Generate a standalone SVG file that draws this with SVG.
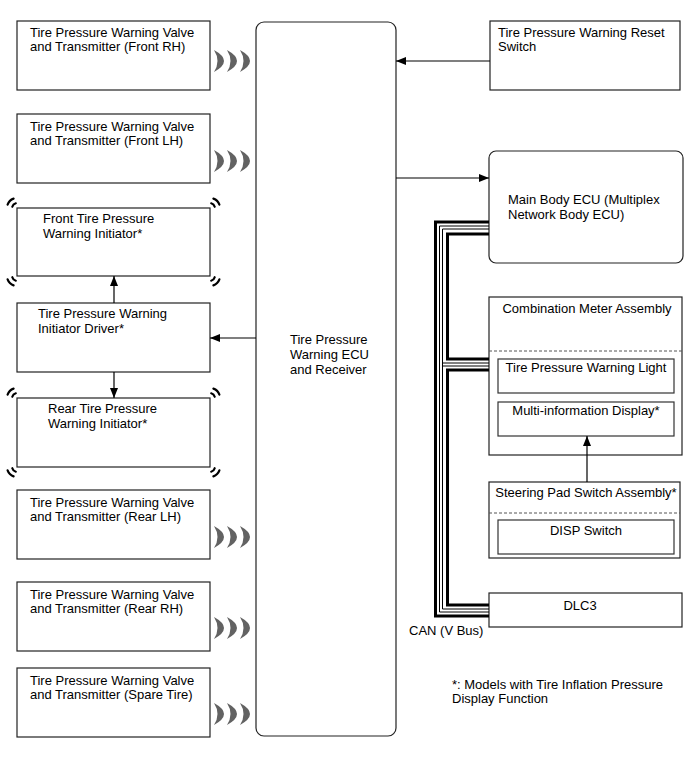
<svg xmlns="http://www.w3.org/2000/svg" xmlns:xlink="http://www.w3.org/1999/xlink" width="690" height="757" viewBox="0 0 690 757">
<style>
  text { font-family: "Liberation Sans", Arial, sans-serif; font-size: 13px; fill: #000; }
  .box { fill: #fff; stroke: #222; stroke-width: 1.2; }
  .inner { fill: #fff; stroke: #333; stroke-width: 1.2; }
  .dash { stroke: #555; stroke-width: 1; stroke-dasharray: 3 2; fill: none; }
  .line { stroke: #000; stroke-width: 1.2; fill: none; }
  .bus3 { stroke: #000; stroke-width: 3; fill: none; }
  .bus1 { stroke: #000; stroke-width: 1; fill: none; }
  .mark { stroke: #000; stroke-width: 2.2; fill: none; stroke-linecap: round; }
  .wave { fill: #626262; }
  .c { text-anchor: middle; }
</style>
<defs>
  <marker id="arr" viewBox="0 0 10 8" refX="10" refY="4" markerWidth="10" markerHeight="8" markerUnits="userSpaceOnUse" orient="auto">
    <path d="M0,0 L10,4 L0,8 Z" fill="#000"/>
  </marker>
  <g id="waves">
    <path class="wave" d="M0,-11 Q20,0 0,11 Q7,0 0,-11 Z"/>
    <path class="wave" d="M13,-11 Q33,0 13,11 Q20,0 13,-11 Z"/>
    <path class="wave" d="M26,-11 Q46,0 26,11 Q33,0 26,-11 Z"/>
  </g>
  <g id="cm">
    <path class="mark" d="M-9.4,-3.4 A10,10 0 0 1 -3.4,-9.4"/>
    <path class="mark" d="M-4.7,-1.2 A5,5 0 0 1 -1.2,-4.7"/>
  </g>
</defs>

<g id="ecu">
  <rect class="box" x="256" y="22" width="140" height="714" rx="8"/>
  <text x="290" y="344">Tire Pressure</text>
  <text x="290" y="359">Warning ECU</text>
  <text x="290" y="374">and Receiver</text>
</g>

<g id="tx-frh">
  <rect class="box" x="17" y="21" width="193" height="69"/>
  <text x="30" y="37">Tire Pressure Warning Valve</text>
  <text x="30" y="51">and Transmitter (Front RH)</text>
  <use href="#waves" x="214" y="61"/>
</g>
<g id="tx-flh">
  <rect class="box" x="17" y="114" width="193" height="69"/>
  <text x="30" y="131">Tire Pressure Warning Valve</text>
  <text x="30" y="145">and Transmitter (Front LH)</text>
  <use href="#waves" x="214" y="161"/>
</g>
<g id="front-init">
  <rect class="box" x="17" y="208" width="193" height="68"/>
  <text x="43" y="223">Front Tire Pressure</text>
  <text x="43" y="238">Warning Initiator*</text>
  <use href="#cm" transform="translate(17,208)"/>
  <use href="#cm" transform="translate(210,208) scale(-1,1)"/>
  <use href="#cm" transform="translate(17,276) scale(1,-1)"/>
  <use href="#cm" transform="translate(210,276) scale(-1,-1)"/>
</g>
<g id="init-driver">
  <rect class="box" x="17" y="303" width="193" height="69"/>
  <text x="38" y="318">Tire Pressure Warning</text>
  <text x="38" y="333">Initiator Driver*</text>
</g>
<g id="rear-init">
  <rect class="box" x="17" y="398" width="193" height="69"/>
  <text x="48" y="413">Rear Tire Pressure</text>
  <text x="48" y="428">Warning Initiator*</text>
  <use href="#cm" transform="translate(17,398)"/>
  <use href="#cm" transform="translate(210,398) scale(-1,1)"/>
  <use href="#cm" transform="translate(17,467) scale(1,-1)"/>
  <use href="#cm" transform="translate(210,467) scale(-1,-1)"/>
</g>
<g id="tx-rlh">
  <rect class="box" x="17" y="490" width="193" height="69"/>
  <text x="30" y="507">Tire Pressure Warning Valve</text>
  <text x="30" y="521">and Transmitter (Rear LH)</text>
  <use href="#waves" x="214" y="537"/>
</g>
<g id="tx-rrh">
  <rect class="box" x="17" y="582" width="193" height="69"/>
  <text x="30" y="599">Tire Pressure Warning Valve</text>
  <text x="30" y="613">and Transmitter (Rear RH)</text>
  <use href="#waves" x="214" y="628"/>
</g>
<g id="tx-spare">
  <rect class="box" x="17" y="668" width="193" height="69"/>
  <text x="30" y="685">Tire Pressure Warning Valve</text>
  <text x="30" y="699">and Transmitter (Spare Tire)</text>
  <use href="#waves" x="214" y="714"/>
</g>

<g id="reset-sw">
  <rect class="box" x="490" y="21" width="190" height="69"/>
  <text x="498" y="37">Tire Pressure Warning Reset</text>
  <text x="498" y="51">Switch</text>
</g>
<g id="main-body">
  <rect class="box" x="489" y="151" width="194" height="112" rx="7"/>
  <text x="508" y="204">Main Body ECU (Multiplex</text>
  <text x="508" y="219">Network Body ECU)</text>
</g>
<g id="combo-meter">
  <rect class="box" x="489" y="297" width="193" height="158"/>
  <text class="c" x="587" y="313">Combination Meter Assembly</text>
  <line class="dash" x1="489" y1="351" x2="682" y2="351"/>
  <g id="tpw-light">
    <rect class="inner" x="498" y="359" width="176" height="34"/>
    <text class="c" x="586" y="372">Tire Pressure Warning Light</text>
  </g>
  <g id="mid">
    <rect class="inner" x="498" y="402" width="176" height="34"/>
    <text class="c" x="586" y="415">Multi-information Display*</text>
  </g>
</g>
<g id="steering-pad">
  <rect class="box" x="489" y="482" width="191" height="76"/>
  <text class="c" x="586" y="497">Steering Pad Switch Assembly*</text>
  <line class="dash" x1="489" y1="513" x2="680" y2="513"/>
  <g id="disp-sw">
    <rect class="inner" x="498" y="520" width="176" height="34"/>
    <text class="c" x="586" y="535">DISP Switch</text>
  </g>
</g>
<g id="dlc3">
  <rect class="box" x="489" y="593" width="193" height="34"/>
  <text class="c" x="580" y="610">DLC3</text>
</g>

<g id="connectors">
  <line class="line" x1="490" y1="61" x2="396" y2="61" marker-end="url(#arr)"/>
  <line class="line" x1="396" y1="178" x2="489" y2="178" marker-end="url(#arr)"/>
  <line class="line" x1="256" y1="338" x2="210" y2="338" marker-end="url(#arr)"/>
  <line class="line" x1="114" y1="303" x2="114" y2="276" marker-end="url(#arr)"/>
  <line class="line" x1="114" y1="372" x2="114" y2="398" marker-end="url(#arr)"/>
  <line class="line" x1="587" y1="482" x2="587" y2="436" marker-end="url(#arr)"/>
  <!-- CAN bus -->
  <path class="bus3" d="M489,222 H435.5 V616 H489"/>
  <path class="bus1" d="M489,226 H439.5 V612 H489"/>
  <path class="bus1" d="M489,229 H442.5 V609 H489"/>
  <path class="bus1" d="M442.5,363 H489 M442.5,366 H489"/>
  <path class="bus3" d="M489,234 H447.5 V359 H489"/>
  <path class="bus3" d="M489,370 H447.5 V605 H489"/>
</g>

<text x="409" y="635">CAN (V Bus)</text>
<text x="452" y="689">*: Models with Tire Inflation Pressure</text>
<text x="452" y="703">Display Function</text>
</svg>
